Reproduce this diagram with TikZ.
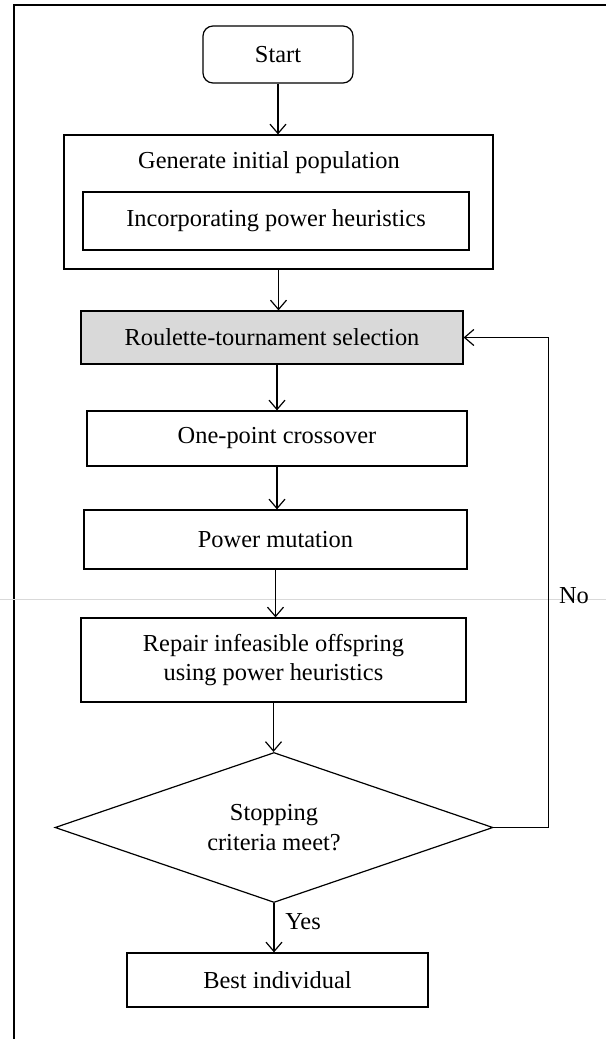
\documentclass[tikz,border=0pt]{standalone}
\usepackage{fontspec}
\setmainfont{Liberation Serif}
\usetikzlibrary{shapes.geometric,arrows.meta}

\begin{document}
\begin{tikzpicture}[x=0.75pt, y=-0.75pt, line width=0.9pt,
  every node/.style={font=\fontsize{18.3}{22}\selectfont},
  box/.style={draw, rectangle, inner sep=0pt, align=center},
  arr/.style={-{Straight Barb[length=7pt,width=12pt]}}]
\useasboundingbox (0,0) rectangle (606,1039);
% page frame
\draw (606,5) -- (14,5) -- (14,1039);
\draw[gray!30, line width=0.6pt] (0,599) -- (606,599);

\node[box, rounded corners=7.5pt, minimum width=112.5pt, minimum height=42.75pt] (start) at (278,54.5) {Start};
\node[box, minimum width=321.75pt, minimum height=100.5pt] (outer) at (278.5,202) {};
\node (gen) at (269,163) {Generate initial population};
\node[box, minimum width=289.5pt, minimum height=43.5pt] (inner) at (276,221) {Incorporating power heuristics};
\node[box, fill=gray!30, minimum width=286.5pt, minimum height=39.75pt] (roulette) at (272,337.5) {Roulette-tournament selection};
\node[box, minimum width=285pt, minimum height=41.25pt] (cross) at (277,438.5) {One-point crossover};
\node[box, minimum width=287.25pt, minimum height=44.25pt] (mut) at (275.5,539.5) {Power mutation};
\node[box, minimum width=288.75pt, minimum height=63pt] (repair) at (273.5,660) {Repair infeasible offspring\\using power heuristics};
\node[draw, diamond, aspect=2.92, inner sep=0pt, align=center, minimum width=328.5pt, minimum height=112.5pt] (stop) at (274,827.5) {Stopping\\criteria meet?};
\node[box, minimum width=225.75pt, minimum height=40.5pt] (best) at (277.5,980) {Best individual};

\node (yes) at (303,922) {Yes};
\node (no) at (574,596) {No};

% flow
\draw[arr] (start.south) -- (start.south |- outer.north);
\draw[arr] (outer.south) -- (outer.south |- roulette.north);
\draw[arr] (cross.north |- roulette.south) -- (cross.north);
\draw[arr] (cross.south) -- (cross.south |- mut.north);
\draw[arr] (mut.south) -- (mut.south |- repair.north);
\draw[arr] (repair.south) -- (repair.south |- stop.north);
\draw[arr] (stop.south) -- (stop.south |- best.north);
\draw[arr] (stop.east) -- ++(55,0) |- (roulette.east);
\end{tikzpicture}
\end{document}
